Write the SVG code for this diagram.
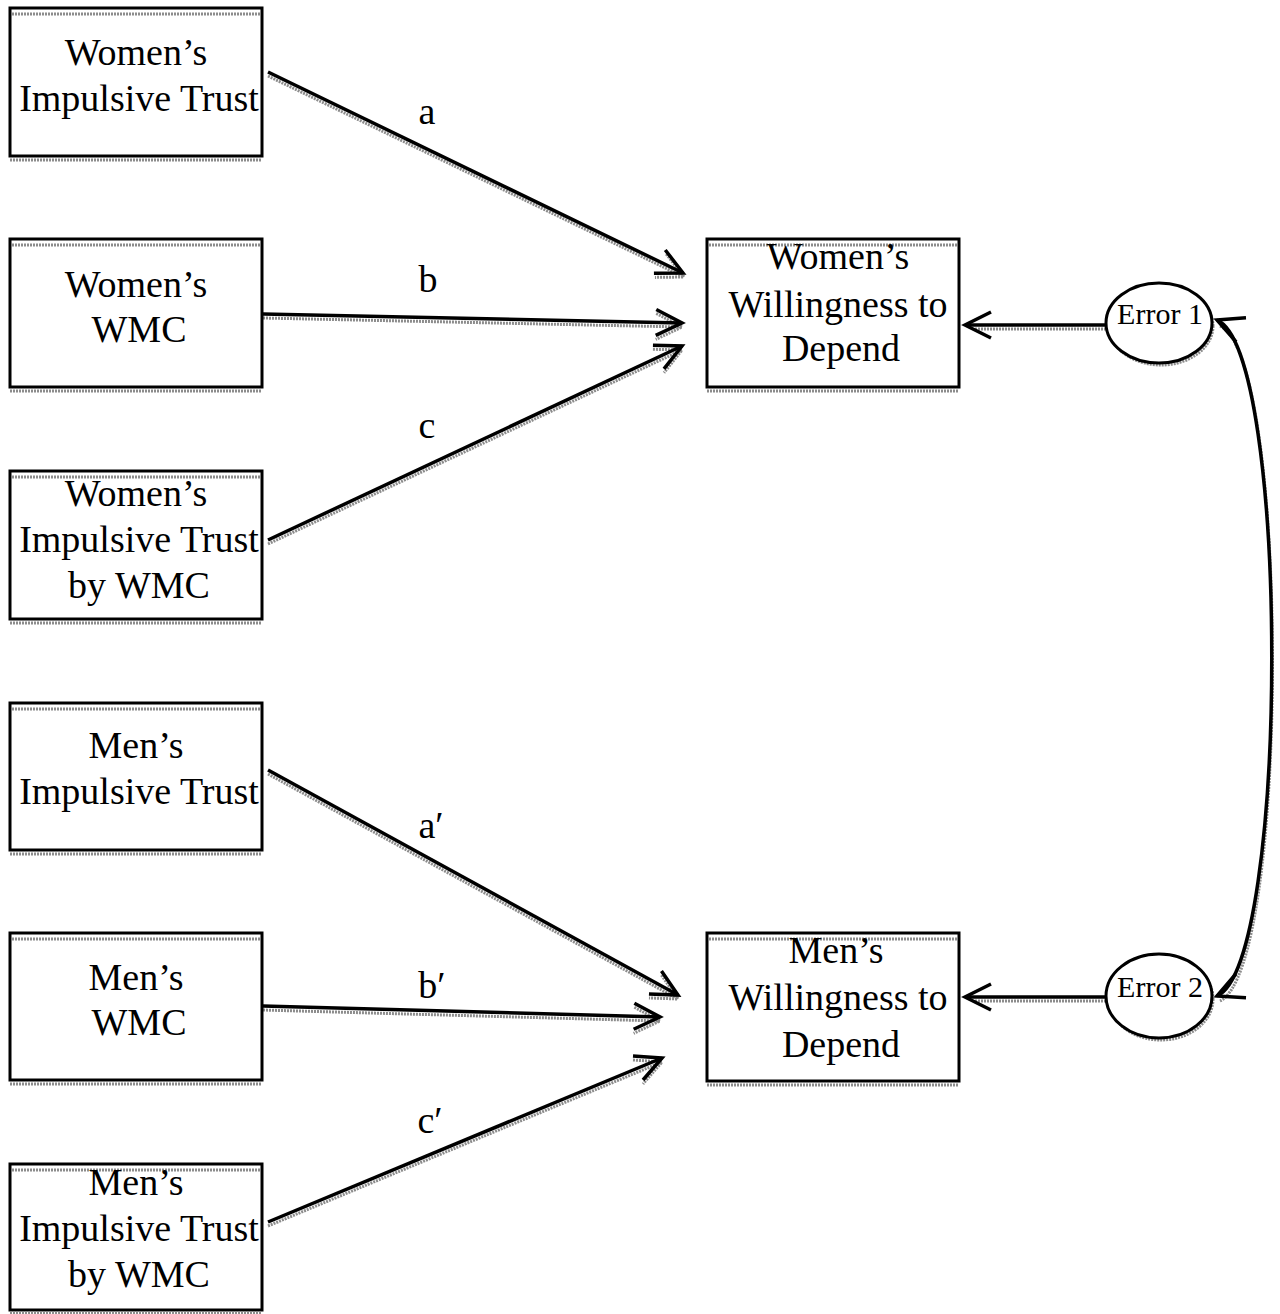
<svg xmlns="http://www.w3.org/2000/svg" width="1280" height="1314" viewBox="0 0 1280 1314">
<defs>
<style>
.box{fill:#fff;stroke:#000;stroke-width:3}
.sh{fill:none;stroke:#8c8c8c;stroke-width:3;stroke-dasharray:2 1}
.t{font-family:"Liberation Serif","Times New Roman",serif;font-size:38px;fill:#000;text-anchor:middle}
.lbl{font-family:"Liberation Serif","Times New Roman",serif;font-size:38px;fill:#000;text-anchor:middle}
.et{font-family:"Liberation Serif","Times New Roman",serif;font-size:30px;fill:#000;text-anchor:middle}
.ln{fill:none;stroke:#000;stroke-width:3.5}
.ell{fill:#fff;stroke:#000;stroke-width:3}
</style>
<marker id="ah" viewBox="-30 -16 34 32" refX="0" refY="0" markerWidth="34" markerHeight="32" markerUnits="userSpaceOnUse" orient="auto">
<path d="M-26,-13 L0,0 L-26,13" fill="none" stroke="#000" stroke-width="3.5"/>
</marker>
<marker id="ahr" viewBox="-30 -16 34 32" refX="0" refY="0" markerWidth="34" markerHeight="32" markerUnits="userSpaceOnUse" orient="auto-start-reverse">
<path d="M-26,-13 L0,0 L-26,13" fill="none" stroke="#000" stroke-width="3.5"/>
</marker>
<marker id="ahs" viewBox="-30 -16 34 32" refX="0" refY="0" markerWidth="34" markerHeight="32" markerUnits="userSpaceOnUse" orient="auto">
<path d="M-26,-13 L0,0 L-26,13" fill="none" stroke="#8c8c8c" stroke-width="3" stroke-dasharray="2 1"/>
</marker>
</defs>
<rect width="1280" height="1314" fill="#fff"/>

<g id="shadows">
<path class="sh" marker-end="url(#ahs)" d="M268,76 L684,277"/>
<path class="sh" marker-end="url(#ahs)" d="M263,318 L682,327"/>
<path class="sh" marker-end="url(#ahs)" d="M268,544 L682,350"/>
<path class="sh" marker-end="url(#ahs)" d="M268,774 L678,999"/>
<path class="sh" marker-end="url(#ahs)" d="M263,1010 L660,1021"/>
<path class="sh" marker-end="url(#ahs)" d="M268,1226 L662,1062"/>
<path class="sh" d="M1106,329 L975,329"/>
<path class="sh" d="M1106,1001 L975,1001"/>
<path class="sh" d="M1220,326 C1290,356 1290,968 1220,1001"/>
</g>

<g id="connectors">
<path class="ln" marker-end="url(#ah)" d="M268,72 L683,273"/>
<path class="ln" marker-end="url(#ah)" d="M263,314 L682,323"/>
<path class="ln" marker-end="url(#ah)" d="M268,540 L682,346"/>
<path class="ln" marker-end="url(#ah)" d="M268,770 L678,995"/>
<path class="ln" marker-end="url(#ah)" d="M263,1006 L660,1017"/>
<path class="ln" marker-end="url(#ah)" d="M268,1222 L662,1058"/>
<path class="ln" marker-end="url(#ah)" d="M1106,325 L965,325"/>
<path class="ln" marker-end="url(#ah)" d="M1106,997 L965,997"/>
<path class="ln" marker-start="url(#ahr)" marker-end="url(#ah)" d="M1217,320 C1290,350 1290,965 1217,996"/>
<text class="lbl" x="427" y="124">a</text>
<text class="lbl" x="428" y="292">b</text>
<text class="lbl" x="427" y="438">c</text>
<text class="lbl" x="431" y="838">a′</text>
<text class="lbl" x="432" y="998">b′</text>
<text class="lbl" x="430" y="1133">c′</text>
</g>

<g id="w-impulsive">
<rect class="box" x="10" y="8" width="252" height="148"/>
<path class="sh" d="M12,14 H260 M10,160 H262"/>
<text class="t" x="136" y="65">Women’s</text>
<text class="t" x="139" y="111">Impulsive Trust</text>
</g>
<g id="w-wmc">
<rect class="box" x="10" y="239" width="252" height="148"/>
<path class="sh" d="M12,245 H260 M10,391 H262"/>
<text class="t" x="136" y="297">Women’s</text>
<text class="t" x="139" y="342">WMC</text>
</g>
<g id="w-inter">
<rect class="box" x="10" y="471" width="252" height="148"/>
<path class="sh" d="M12,477 H260 M10,623 H262"/>
<text class="t" x="136" y="506">Women’s</text>
<text class="t" x="139" y="552">Impulsive Trust</text>
<text class="t" x="139" y="598">by WMC</text>
</g>
<g id="m-impulsive">
<rect class="box" x="10" y="703" width="252" height="147"/>
<path class="sh" d="M12,709 H260 M10,854 H262"/>
<text class="t" x="136" y="758">Men’s</text>
<text class="t" x="139" y="804">Impulsive Trust</text>
</g>
<g id="m-wmc">
<rect class="box" x="10" y="933" width="252" height="147"/>
<path class="sh" d="M12,939 H260 M10,1084 H262"/>
<text class="t" x="136" y="990">Men’s</text>
<text class="t" x="139" y="1035">WMC</text>
</g>
<g id="m-inter">
<rect class="box" x="10" y="1164" width="252" height="146"/>
<path class="sh" d="M12,1170 H260 M10,1313 H262"/>
<text class="t" x="136" y="1195">Men’s</text>
<text class="t" x="139" y="1241">Impulsive Trust</text>
<text class="t" x="139" y="1287">by WMC</text>
</g>
<g id="w-depend">
<rect class="box" x="707" y="239" width="252" height="148"/>
<path class="sh" d="M709,245 H957 M707,391 H959"/>
<text class="t" x="838" y="269">Women’s</text>
<text class="t" x="838" y="317">Willingness to</text>
<text class="t" x="841" y="361">Depend</text>
</g>
<g id="m-depend">
<rect class="box" x="707" y="933" width="252" height="148"/>
<path class="sh" d="M709,939 H957 M707,1085 H959"/>
<text class="t" x="836" y="963">Men’s</text>
<text class="t" x="838" y="1010">Willingness to</text>
<text class="t" x="841" y="1057">Depend</text>
</g>
<g id="error1">
<ellipse class="sh" cx="1161" cy="326" rx="52" ry="39"/>
<ellipse class="ell" cx="1159" cy="323" rx="53" ry="40"/>
<text class="et" x="1160" y="324">Error 1</text>
</g>
<g id="error2">
<ellipse class="sh" cx="1161" cy="999" rx="52" ry="41"/>
<ellipse class="ell" cx="1159" cy="996" rx="53" ry="42"/>
<text class="et" x="1160" y="997">Error 2</text>
</g>
</svg>
